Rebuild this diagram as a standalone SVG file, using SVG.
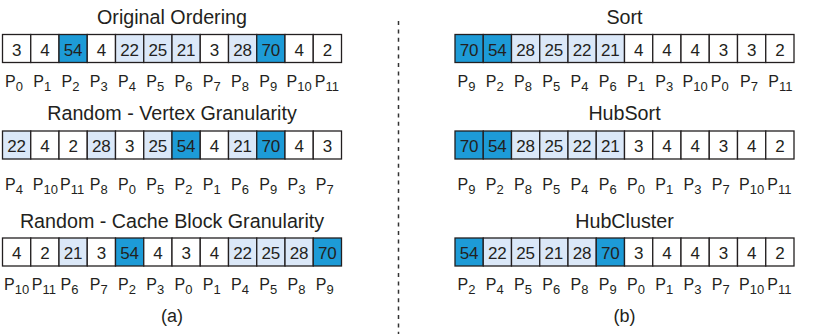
<svg xmlns="http://www.w3.org/2000/svg" width="826" height="335" viewBox="0 0 826 335">
<style>
text{font-family:"Liberation Sans",Arial,Helvetica,sans-serif;fill:#231f20}
.title{font-size:19.7px;text-anchor:middle}
.num{font-size:17px;text-anchor:middle}
.lbl{font-size:16px}
.sub{font-size:13px}
.cap{font-size:18px;text-anchor:middle}
rect{stroke:#231f20;stroke-width:1.3}
.w{fill:#ffffff}
.l{fill:#dbe8f8}
.d{fill:#1d9bd7}
.div{stroke:#333;stroke-width:1.5;stroke-dasharray:4 4.4;fill:none}
</style>
<rect x="0" y="0" width="826" height="335" style="fill:#fff;stroke:none"/>

<g id="panel-a">
<text class="title" x="172" y="24">Original Ordering</text>
<g id="row-original" transform="translate(2.5,34.5)">
<g id="orig-0"><rect class="w" x="0" y="0" width="28.25" height="28"/><text class="num" x="14.125" y="21">3</text><text class="lbl" x="2.5" y="52.5">P<tspan class="sub" dy="3.5">0</tspan></text></g>
<g id="orig-1"><rect class="w" x="28.25" y="0" width="28.25" height="28"/><text class="num" x="42.375" y="21">4</text><text class="lbl" x="30.75" y="52.5">P<tspan class="sub" dy="3.5">1</tspan></text></g>
<g id="orig-2"><rect class="d" x="56.5" y="0" width="28.25" height="28"/><text class="num" x="70.625" y="21">54</text><text class="lbl" x="59" y="52.5">P<tspan class="sub" dy="3.5">2</tspan></text></g>
<g id="orig-3"><rect class="w" x="84.75" y="0" width="28.25" height="28"/><text class="num" x="98.875" y="21">4</text><text class="lbl" x="87.25" y="52.5">P<tspan class="sub" dy="3.5">3</tspan></text></g>
<g id="orig-4"><rect class="l" x="113" y="0" width="28.25" height="28"/><text class="num" x="127.125" y="21">22</text><text class="lbl" x="115.5" y="52.5">P<tspan class="sub" dy="3.5">4</tspan></text></g>
<g id="orig-5"><rect class="l" x="141.25" y="0" width="28.25" height="28"/><text class="num" x="155.375" y="21">25</text><text class="lbl" x="143.75" y="52.5">P<tspan class="sub" dy="3.5">5</tspan></text></g>
<g id="orig-6"><rect class="l" x="169.5" y="0" width="28.25" height="28"/><text class="num" x="183.625" y="21">21</text><text class="lbl" x="172" y="52.5">P<tspan class="sub" dy="3.5">6</tspan></text></g>
<g id="orig-7"><rect class="w" x="197.75" y="0" width="28.25" height="28"/><text class="num" x="211.875" y="21">3</text><text class="lbl" x="200.25" y="52.5">P<tspan class="sub" dy="3.5">7</tspan></text></g>
<g id="orig-8"><rect class="l" x="226" y="0" width="28.25" height="28"/><text class="num" x="240.125" y="21">28</text><text class="lbl" x="228.5" y="52.5">P<tspan class="sub" dy="3.5">8</tspan></text></g>
<g id="orig-9"><rect class="d" x="254.25" y="0" width="28.25" height="28"/><text class="num" x="268.375" y="21">70</text><text class="lbl" x="256.75" y="52.5">P<tspan class="sub" dy="3.5">9</tspan></text></g>
<g id="orig-10"><rect class="w" x="282.5" y="0" width="28.25" height="28"/><text class="num" x="296.625" y="21">4</text><text class="lbl" x="284" y="52.5">P<tspan class="sub" dy="3.5">10</tspan></text></g>
<g id="orig-11"><rect class="w" x="310.75" y="0" width="28.25" height="28"/><text class="num" x="324.875" y="21">2</text><text class="lbl" x="312.25" y="52.5">P<tspan class="sub" dy="3.5">11</tspan></text></g>
</g>

<text class="title" x="172" y="120">Random - Vertex Granularity</text>
<g id="row-random-vertex" transform="translate(2.5,131)">
<g id="rv-0"><rect class="l" x="0" y="0" width="28.25" height="28"/><text class="num" x="14.125" y="21">22</text><text class="lbl" x="2.5" y="59">P<tspan class="sub" dy="3.5">4</tspan></text></g>
<g id="rv-1"><rect class="w" x="28.25" y="0" width="28.25" height="28"/><text class="num" x="42.375" y="21">4</text><text class="lbl" x="30.25" y="59">P<tspan class="sub" dy="3.5">10</tspan></text></g>
<g id="rv-2"><rect class="w" x="56.5" y="0" width="28.25" height="28"/><text class="num" x="70.625" y="21">2</text><text class="lbl" x="57.5" y="59">P<tspan class="sub" dy="3.5">11</tspan></text></g>
<g id="rv-3"><rect class="l" x="84.75" y="0" width="28.25" height="28"/><text class="num" x="98.875" y="21">28</text><text class="lbl" x="87.25" y="59">P<tspan class="sub" dy="3.5">8</tspan></text></g>
<g id="rv-4"><rect class="w" x="113" y="0" width="28.25" height="28"/><text class="num" x="127.125" y="21">3</text><text class="lbl" x="115.5" y="59">P<tspan class="sub" dy="3.5">0</tspan></text></g>
<g id="rv-5"><rect class="l" x="141.25" y="0" width="28.25" height="28"/><text class="num" x="155.375" y="21">25</text><text class="lbl" x="143.75" y="59">P<tspan class="sub" dy="3.5">5</tspan></text></g>
<g id="rv-6"><rect class="d" x="169.5" y="0" width="28.25" height="28"/><text class="num" x="183.625" y="21">54</text><text class="lbl" x="172" y="59">P<tspan class="sub" dy="3.5">2</tspan></text></g>
<g id="rv-7"><rect class="w" x="197.75" y="0" width="28.25" height="28"/><text class="num" x="211.875" y="21">4</text><text class="lbl" x="200.25" y="59">P<tspan class="sub" dy="3.5">1</tspan></text></g>
<g id="rv-8"><rect class="l" x="226" y="0" width="28.25" height="28"/><text class="num" x="240.125" y="21">21</text><text class="lbl" x="228.5" y="59">P<tspan class="sub" dy="3.5">6</tspan></text></g>
<g id="rv-9"><rect class="d" x="254.25" y="0" width="28.25" height="28"/><text class="num" x="268.375" y="21">70</text><text class="lbl" x="256.75" y="59">P<tspan class="sub" dy="3.5">9</tspan></text></g>
<g id="rv-10"><rect class="w" x="282.5" y="0" width="28.25" height="28"/><text class="num" x="296.625" y="21">4</text><text class="lbl" x="285" y="59">P<tspan class="sub" dy="3.5">3</tspan></text></g>
<g id="rv-11"><rect class="w" x="310.75" y="0" width="28.25" height="28"/><text class="num" x="324.875" y="21">3</text><text class="lbl" x="313.25" y="59">P<tspan class="sub" dy="3.5">7</tspan></text></g>
</g>

<text class="title" x="172" y="228">Random - Cache Block Granularity</text>
<g id="row-random-block" transform="translate(2.5,238)">
<g id="rb-0"><rect class="w" x="0" y="0" width="28.25" height="28"/><text class="num" x="14.125" y="21">4</text><text class="lbl" x="1.5" y="52">P<tspan class="sub" dy="3.5">10</tspan></text></g>
<g id="rb-1"><rect class="w" x="28.25" y="0" width="28.25" height="28"/><text class="num" x="42.375" y="21">2</text><text class="lbl" x="29.25" y="52">P<tspan class="sub" dy="3.5">11</tspan></text></g>
<g id="rb-2"><rect class="l" x="56.5" y="0" width="28.25" height="28"/><text class="num" x="70.625" y="21">21</text><text class="lbl" x="58" y="52">P<tspan class="sub" dy="3.5">6</tspan></text></g>
<g id="rb-3"><rect class="w" x="84.75" y="0" width="28.25" height="28"/><text class="num" x="98.875" y="21">3</text><text class="lbl" x="87.25" y="52">P<tspan class="sub" dy="3.5">7</tspan></text></g>
<g id="rb-4"><rect class="d" x="113" y="0" width="28.25" height="28"/><text class="num" x="127.125" y="21">54</text><text class="lbl" x="115.5" y="52">P<tspan class="sub" dy="3.5">2</tspan></text></g>
<g id="rb-5"><rect class="w" x="141.25" y="0" width="28.25" height="28"/><text class="num" x="155.375" y="21">4</text><text class="lbl" x="143.75" y="52">P<tspan class="sub" dy="3.5">3</tspan></text></g>
<g id="rb-6"><rect class="w" x="169.5" y="0" width="28.25" height="28"/><text class="num" x="183.625" y="21">3</text><text class="lbl" x="172" y="52">P<tspan class="sub" dy="3.5">0</tspan></text></g>
<g id="rb-7"><rect class="w" x="197.75" y="0" width="28.25" height="28"/><text class="num" x="211.875" y="21">4</text><text class="lbl" x="200.25" y="52">P<tspan class="sub" dy="3.5">1</tspan></text></g>
<g id="rb-8"><rect class="l" x="226" y="0" width="28.25" height="28"/><text class="num" x="240.125" y="21">22</text><text class="lbl" x="228.5" y="52">P<tspan class="sub" dy="3.5">4</tspan></text></g>
<g id="rb-9"><rect class="l" x="254.25" y="0" width="28.25" height="28"/><text class="num" x="268.375" y="21">25</text><text class="lbl" x="256.75" y="52">P<tspan class="sub" dy="3.5">5</tspan></text></g>
<g id="rb-10"><rect class="l" x="282.5" y="0" width="28.25" height="28"/><text class="num" x="296.625" y="21">28</text><text class="lbl" x="285" y="52">P<tspan class="sub" dy="3.5">8</tspan></text></g>
<g id="rb-11"><rect class="d" x="310.75" y="0" width="28.25" height="28"/><text class="num" x="324.875" y="21">70</text><text class="lbl" x="313.25" y="52">P<tspan class="sub" dy="3.5">9</tspan></text></g>
</g>
<text class="cap" x="172" y="322">(a)</text>
</g>

<g id="panel-b">
<text class="title" x="624.5" y="24">Sort</text>
<g id="row-sort" transform="translate(455,34.5)">
<g id="s-0"><rect class="d" x="0" y="0" width="28.25" height="28"/><text class="num" x="14.125" y="21">70</text><text class="lbl" x="2.5" y="52.5">P<tspan class="sub" dy="3.5">9</tspan></text></g>
<g id="s-1"><rect class="d" x="28.25" y="0" width="28.25" height="28"/><text class="num" x="42.375" y="21">54</text><text class="lbl" x="30.75" y="52.5">P<tspan class="sub" dy="3.5">2</tspan></text></g>
<g id="s-2"><rect class="l" x="56.5" y="0" width="28.25" height="28"/><text class="num" x="70.625" y="21">28</text><text class="lbl" x="59" y="52.5">P<tspan class="sub" dy="3.5">8</tspan></text></g>
<g id="s-3"><rect class="l" x="84.75" y="0" width="28.25" height="28"/><text class="num" x="98.875" y="21">25</text><text class="lbl" x="87.25" y="52.5">P<tspan class="sub" dy="3.5">5</tspan></text></g>
<g id="s-4"><rect class="l" x="113" y="0" width="28.25" height="28"/><text class="num" x="127.125" y="21">22</text><text class="lbl" x="115.5" y="52.5">P<tspan class="sub" dy="3.5">4</tspan></text></g>
<g id="s-5"><rect class="l" x="141.25" y="0" width="28.25" height="28"/><text class="num" x="155.375" y="21">21</text><text class="lbl" x="143.75" y="52.5">P<tspan class="sub" dy="3.5">6</tspan></text></g>
<g id="s-6"><rect class="w" x="169.5" y="0" width="28.25" height="28"/><text class="num" x="183.625" y="21">4</text><text class="lbl" x="172" y="52.5">P<tspan class="sub" dy="3.5">1</tspan></text></g>
<g id="s-7"><rect class="w" x="197.75" y="0" width="28.25" height="28"/><text class="num" x="211.875" y="21">4</text><text class="lbl" x="200.25" y="52.5">P<tspan class="sub" dy="3.5">3</tspan></text></g>
<g id="s-8"><rect class="w" x="226" y="0" width="28.25" height="28"/><text class="num" x="240.125" y="21">4</text><text class="lbl" x="227.5" y="52.5">P<tspan class="sub" dy="3.5">10</tspan></text></g>
<g id="s-9"><rect class="w" x="254.25" y="0" width="28.25" height="28"/><text class="num" x="268.375" y="21">3</text><text class="lbl" x="255.75" y="52.5">P<tspan class="sub" dy="3.5">0</tspan></text></g>
<g id="s-10"><rect class="w" x="282.5" y="0" width="28.25" height="28"/><text class="num" x="296.625" y="21">3</text><text class="lbl" x="285" y="52.5">P<tspan class="sub" dy="3.5">7</tspan></text></g>
<g id="s-11"><rect class="w" x="310.75" y="0" width="28.25" height="28"/><text class="num" x="324.875" y="21">2</text><text class="lbl" x="313.25" y="52.5">P<tspan class="sub" dy="3.5">11</tspan></text></g>
</g>

<text class="title" x="624.5" y="120">HubSort</text>
<g id="row-hubsort" transform="translate(455,131)">
<g id="hs-0"><rect class="d" x="0" y="0" width="28.25" height="28"/><text class="num" x="14.125" y="21">70</text><text class="lbl" x="2.5" y="59">P<tspan class="sub" dy="3.5">9</tspan></text></g>
<g id="hs-1"><rect class="d" x="28.25" y="0" width="28.25" height="28"/><text class="num" x="42.375" y="21">54</text><text class="lbl" x="30.75" y="59">P<tspan class="sub" dy="3.5">2</tspan></text></g>
<g id="hs-2"><rect class="l" x="56.5" y="0" width="28.25" height="28"/><text class="num" x="70.625" y="21">28</text><text class="lbl" x="59" y="59">P<tspan class="sub" dy="3.5">8</tspan></text></g>
<g id="hs-3"><rect class="l" x="84.75" y="0" width="28.25" height="28"/><text class="num" x="98.875" y="21">25</text><text class="lbl" x="87.25" y="59">P<tspan class="sub" dy="3.5">5</tspan></text></g>
<g id="hs-4"><rect class="l" x="113" y="0" width="28.25" height="28"/><text class="num" x="127.125" y="21">22</text><text class="lbl" x="115.5" y="59">P<tspan class="sub" dy="3.5">4</tspan></text></g>
<g id="hs-5"><rect class="l" x="141.25" y="0" width="28.25" height="28"/><text class="num" x="155.375" y="21">21</text><text class="lbl" x="143.75" y="59">P<tspan class="sub" dy="3.5">6</tspan></text></g>
<g id="hs-6"><rect class="w" x="169.5" y="0" width="28.25" height="28"/><text class="num" x="183.625" y="21">3</text><text class="lbl" x="172" y="59">P<tspan class="sub" dy="3.5">0</tspan></text></g>
<g id="hs-7"><rect class="w" x="197.75" y="0" width="28.25" height="28"/><text class="num" x="211.875" y="21">4</text><text class="lbl" x="200.25" y="59">P<tspan class="sub" dy="3.5">1</tspan></text></g>
<g id="hs-8"><rect class="w" x="226" y="0" width="28.25" height="28"/><text class="num" x="240.125" y="21">4</text><text class="lbl" x="228.5" y="59">P<tspan class="sub" dy="3.5">3</tspan></text></g>
<g id="hs-9"><rect class="w" x="254.25" y="0" width="28.25" height="28"/><text class="num" x="268.375" y="21">3</text><text class="lbl" x="256.75" y="59">P<tspan class="sub" dy="3.5">7</tspan></text></g>
<g id="hs-10"><rect class="w" x="282.5" y="0" width="28.25" height="28"/><text class="num" x="296.625" y="21">4</text><text class="lbl" x="284" y="59">P<tspan class="sub" dy="3.5">10</tspan></text></g>
<g id="hs-11"><rect class="w" x="310.75" y="0" width="28.25" height="28"/><text class="num" x="324.875" y="21">2</text><text class="lbl" x="312.25" y="59">P<tspan class="sub" dy="3.5">11</tspan></text></g>
</g>

<text class="title" x="624.5" y="228">HubCluster</text>
<g id="row-hubcluster" transform="translate(455,238)">
<g id="hc-0"><rect class="d" x="0" y="0" width="28.25" height="28"/><text class="num" x="14.125" y="21">54</text><text class="lbl" x="2.5" y="52">P<tspan class="sub" dy="3.5">2</tspan></text></g>
<g id="hc-1"><rect class="l" x="28.25" y="0" width="28.25" height="28"/><text class="num" x="42.375" y="21">22</text><text class="lbl" x="30.75" y="52">P<tspan class="sub" dy="3.5">4</tspan></text></g>
<g id="hc-2"><rect class="l" x="56.5" y="0" width="28.25" height="28"/><text class="num" x="70.625" y="21">25</text><text class="lbl" x="59" y="52">P<tspan class="sub" dy="3.5">5</tspan></text></g>
<g id="hc-3"><rect class="l" x="84.75" y="0" width="28.25" height="28"/><text class="num" x="98.875" y="21">21</text><text class="lbl" x="87.25" y="52">P<tspan class="sub" dy="3.5">6</tspan></text></g>
<g id="hc-4"><rect class="l" x="113" y="0" width="28.25" height="28"/><text class="num" x="127.125" y="21">28</text><text class="lbl" x="115.5" y="52">P<tspan class="sub" dy="3.5">8</tspan></text></g>
<g id="hc-5"><rect class="d" x="141.25" y="0" width="28.25" height="28"/><text class="num" x="155.375" y="21">70</text><text class="lbl" x="143.75" y="52">P<tspan class="sub" dy="3.5">9</tspan></text></g>
<g id="hc-6"><rect class="w" x="169.5" y="0" width="28.25" height="28"/><text class="num" x="183.625" y="21">3</text><text class="lbl" x="172" y="52">P<tspan class="sub" dy="3.5">0</tspan></text></g>
<g id="hc-7"><rect class="w" x="197.75" y="0" width="28.25" height="28"/><text class="num" x="211.875" y="21">4</text><text class="lbl" x="200.25" y="52">P<tspan class="sub" dy="3.5">1</tspan></text></g>
<g id="hc-8"><rect class="w" x="226" y="0" width="28.25" height="28"/><text class="num" x="240.125" y="21">4</text><text class="lbl" x="228.5" y="52">P<tspan class="sub" dy="3.5">3</tspan></text></g>
<g id="hc-9"><rect class="w" x="254.25" y="0" width="28.25" height="28"/><text class="num" x="268.375" y="21">3</text><text class="lbl" x="256.75" y="52">P<tspan class="sub" dy="3.5">7</tspan></text></g>
<g id="hc-10"><rect class="w" x="282.5" y="0" width="28.25" height="28"/><text class="num" x="296.625" y="21">4</text><text class="lbl" x="284" y="52">P<tspan class="sub" dy="3.5">10</tspan></text></g>
<g id="hc-11"><rect class="w" x="310.75" y="0" width="28.25" height="28"/><text class="num" x="324.875" y="21">2</text><text class="lbl" x="312.25" y="52">P<tspan class="sub" dy="3.5">11</tspan></text></g>
</g>
<text class="cap" x="624.5" y="322">(b)</text>
</g>

<g id="connectors">
<line class="div" x1="398.5" y1="21" x2="398.5" y2="334"/>
</g>
</svg>
